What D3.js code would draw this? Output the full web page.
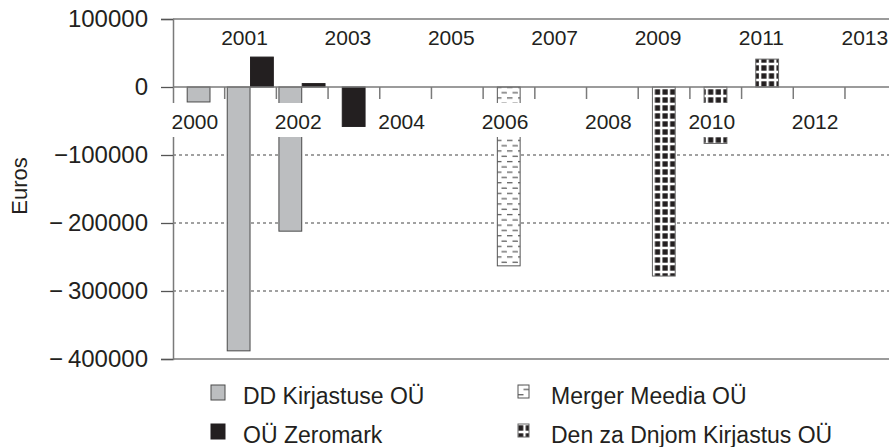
<!DOCTYPE html>
<html>
<head>
<meta charset="utf-8">
<script src="https://cdnjs.cloudflare.com/ajax/libs/d3/7.8.5/d3.min.js"></script>
<style>
  body { margin: 0; background: #fff; }
  svg { font-family: "Liberation Sans", Arial, sans-serif; }
</style>
</head>
<body>
<div id="chart"></div>
<script>
var years = [2000, 2001, 2002, 2003, 2004, 2005, 2006, 2007, 2008, 2009, 2010, 2011, 2012, 2013];
var seriesNames = ["DD Kirjastuse OÜ", "OÜ Zeromark", "Merger Meedia OÜ", "Den za Dnjom Kirjastus OÜ"];
var ddKirjastuse = [-22000, -388000, -212000, 0, 0, 0, 0, 0, 0, 0, 0, 0, 0, 0];
var zeromark     = [0, 44000, 5000, -58000, 0, 0, 0, 0, 0, 0, 0, 0, 0, 0];
var mergerMeedia = [0, 0, 0, 0, 0, 0, -263000, 0, 0, 0, 0, 0, 0, 0];
var denZaDnjom   = [0, 0, 0, 0, 0, 0, 0, 0, 0, -278000, -83000, 41000, 0, 0];
var yTicks = [100000, 0, -100000, -200000, -300000, -400000];
var yTickLabels = ["100000", "0", "\u2212100000", "\u2212\u2009200000", "\u2212\u2009300000", "\u2212\u2009400000"];

var width = 889, height = 447;
var plotLeft = 173, plotTop = 19, plotBottom = 359, bandW = 51.69;
var ink = "#231f20";

var svg = d3.select("#chart").append("svg")
    .attr("width", width)
    .attr("height", height);

var defs = svg.append("defs");
var dash = defs.append("pattern").attr("id", "dashPat")
    .attr("patternUnits", "userSpaceOnUse").attr("width", 11).attr("height", 10.6);
dash.append("rect").attr("width", 11).attr("height", 10.6).attr("fill", "#fff");
dash.append("line").attr("x1", 1).attr("x2", 6.5).attr("y1", 2.6).attr("y2", 2.6)
    .attr("stroke", "#444").attr("stroke-width", 1.1);
dash.append("line").attr("x1", 6.5).attr("x2", 12).attr("y1", 7.9).attr("y2", 7.9)
    .attr("stroke", "#444").attr("stroke-width", 1.1);
dash.append("line").attr("x1", -1).attr("x2", 1).attr("y1", 7.9).attr("y2", 7.9)
    .attr("stroke", "#444").attr("stroke-width", 1.1);

var grid = defs.append("pattern").attr("id", "gridPat")
    .attr("patternUnits", "userSpaceOnUse").attr("width", 7.6).attr("height", 8);
grid.append("rect").attr("width", 7.6).attr("height", 8).attr("fill", "#fff");
grid.append("rect").attr("x", 1.3).attr("y", 1.3).attr("width", 5.2).attr("height", 5.4).attr("fill", ink);

var fills = ["#bcbec0", ink, "url(#dashPat)", "url(#gridPat)"];
var strokes = ["#4a4a4a", ink, "#555", "#666"];
var allValues = [ddKirjastuse, zeromark, mergerMeedia, denZaDnjom];

var x = d3.scaleBand()
    .domain(years)
    .range([plotLeft, plotLeft + bandW * years.length])
    .padding(0);

var y = d3.scaleLinear()
    .domain([-400000, 100000])
    .range([plotBottom, plotTop]);

// dotted gridlines
svg.append("g").selectAll("line")
    .data([-100000, -200000, -300000])
    .enter().append("line")
    .attr("x1", plotLeft).attr("x2", width)
    .attr("y1", function(d) { return y(d); })
    .attr("y2", function(d) { return y(d); })
    .attr("stroke", "#444")
    .attr("stroke-width", 1.1)
    .attr("stroke-dasharray", "3,3");

// bars: only the series present in a year share its band
var barW = 23.3;
var bars = [];
years.forEach(function(yr, i) {
    var present = [];
    allValues.forEach(function(vals, s) {
        if (vals[i] !== 0) present.push(s);
    });
    var c = x(yr) + x.bandwidth() / 2;
    var inner = d3.scaleBand()
        .domain(present)
        .range([c - present.length * barW / 2, c + present.length * barW / 2]);
    present.forEach(function(s) {
        bars.push({ s: s, x: inner(s), w: inner.bandwidth(), v: allValues[s][i] });
    });
});

svg.append("g").selectAll("rect")
    .data(bars)
    .enter().append("rect")
    .attr("x", function(d) { return d.x; })
    .attr("width", function(d) { return d.w - 0.5; })
    .attr("y", function(d) { return Math.min(y(d.v), y(0)); })
    .attr("height", function(d) { return Math.abs(y(d.v) - y(0)); })
    .attr("fill", function(d) { return fills[d.s]; })
    .attr("stroke", function(d) { return strokes[d.s]; })
    .attr("stroke-width", 1);

// frame lines
var axisGray = "#7a7a7a";
svg.append("line").attr("x1", plotLeft).attr("x2", width).attr("y1", plotTop).attr("y2", plotTop)
    .attr("stroke", axisGray).attr("stroke-width", 1.5);
svg.append("line").attr("x1", plotLeft).attr("x2", width).attr("y1", plotBottom).attr("y2", plotBottom)
    .attr("stroke", axisGray).attr("stroke-width", 1.5);
svg.append("line").attr("x1", plotLeft).attr("x2", width).attr("y1", y(0)).attr("y2", y(0))
    .attr("stroke", axisGray).attr("stroke-width", 1.5);

// category ticks at band edges
svg.append("g").selectAll("line")
    .data(years.slice(1))
    .enter().append("line")
    .attr("x1", function(d) { return x(d); })
    .attr("x2", function(d) { return x(d); })
    .attr("y1", y(0)).attr("y2", y(0) + 12)
    .attr("stroke", axisGray).attr("stroke-width", 1.5);

// y axis
var yAxis = svg.append("g")
    .attr("transform", "translate(" + plotLeft + ",0)")
    .call(d3.axisLeft(y)
        .tickValues(yTicks)
        .tickFormat(function(d, i) { return yTickLabels[i]; })
        .tickSize(12)
        .tickPadding(13));
yAxis.select(".domain").attr("stroke", axisGray).attr("stroke-width", 1.5);
yAxis.selectAll(".tick line").attr("stroke", "#555").attr("stroke-width", 1.3);
yAxis.selectAll(".tick text")
    .attr("fill", ink)
    .style("font-size", "24px")
    .attr("font-family", "Liberation Sans, Arial, sans-serif");

// staggered year labels, the lower ones on white boxes
var yearLabels = svg.append("g");
years.forEach(function(yr, i) {
    var lower = i % 2 === 0;
    var cx = x(yr) + x.bandwidth() / 2 - (lower ? 4 : 6);
    if (lower) {
        yearLabels.append("rect")
            .attr("x", cx - 26).attr("y", 103)
            .attr("width", 52).attr("height", 34)
            .attr("fill", "#fff");
    }
    yearLabels.append("text")
        .attr("x", cx)
        .attr("y", lower ? 129 : 45)
        .attr("text-anchor", "middle")
        .attr("fill", ink)
        .style("font-size", "21px")
        .text(yr);
});

// axis title
svg.append("text")
    .attr("transform", "translate(27,186) rotate(-90)")
    .attr("text-anchor", "middle")
    .attr("fill", ink)
    .style("font-size", "22px")
    .text("Euros");

// legend
var legendPos = [[211, 385], [211, 424], [518, 385], [518, 424]];
var legend = svg.append("g");
seriesNames.forEach(function(name, s) {
    var p = legendPos[s];
    var w = s < 2 ? 14 : 11;
    legend.append("rect")
        .attr("x", p[0]).attr("y", p[1])
        .attr("width", w).attr("height", s < 2 ? 15 : 13)
        .attr("fill", fills[s])
        .attr("stroke", strokes[s])
        .attr("stroke-width", 1);
    legend.append("text")
        .attr("x", p[0] + (s < 2 ? 32 : 33))
        .attr("y", p[1] + 19)
        .attr("fill", ink)
        .style("font-size", "23px")
        .text(name);
});
</script>
</body>
</html>
